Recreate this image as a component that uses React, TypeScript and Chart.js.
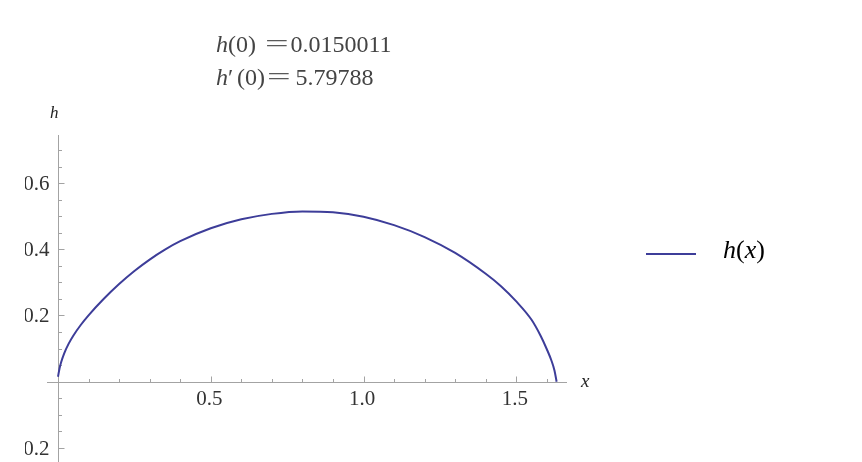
import React, { useEffect, useRef } from "react";
import { Chart, registerables } from "chart.js";

Chart.register(...registerables);

// Curve h(x)
const xValues = [0, 0.005, 0.01, 0.02, 0.035, 0.05, 0.075, 0.1, 0.15, 0.2, 0.25, 0.3, 0.35, 0.4, 0.5, 0.6, 0.7, 0.8, 0.9, 1.0, 1.1, 1.2, 1.3, 1.4, 1.45, 1.5, 1.55, 1.58, 1.6, 1.615, 1.625, 1.632];
const hValues = [0.015, 0.04, 0.058, 0.085, 0.115, 0.139, 0.172, 0.2005, 0.2505, 0.295, 0.3345, 0.369, 0.399, 0.4245, 0.4635, 0.4905, 0.507, 0.5145, 0.512, 0.4985, 0.473, 0.437, 0.389, 0.326, 0.2885, 0.2425, 0.187, 0.138, 0.098, 0.064, 0.034, 0.0];

// Axis ticks
const xMajorTicks = [0.5, 1.0, 1.5];
const xTickLabels = ["0.5", "1.0", "1.5"];
const xMinorTicks = [0.1, 0.2, 0.3, 0.4, 0.6, 0.7, 0.8, 0.9, 1.1, 1.2, 1.3, 1.4, 1.6];
const yMajorTicks = [-0.2, 0.2, 0.4, 0.6];
const yTickLabels = ["\u22120.2", "0.2", "0.4", "0.6"];
const yMinorTicks = [-0.15, -0.1, -0.05, 0.05, 0.1, 0.15, 0.25, 0.3, 0.35, 0.45, 0.5, 0.55, 0.65, 0.7];

const titleLine1Value = "0.0150011";
const titleLine2Value = "5.79788";
const seriesName = "h(x)";

const CURVE = "#3d3d99";
const AXIS = "#a3a3a3";
const SERIF = '"Liberation Serif", "Times New Roman", serif';

const axesPlugin = {
  id: "mmaAxes",
  beforeDatasetsDraw(chart: any) {
    const { ctx } = chart;
    const xs = chart.scales.x;
    const ys = chart.scales.y;
    const x0 = Math.round(xs.getPixelForValue(0)) + 0.5;
    const y0 = Math.round(ys.getPixelForValue(0)) + 0.5;
    ctx.save();
    ctx.strokeStyle = AXIS;
    ctx.lineWidth = 1;
    ctx.beginPath();
    ctx.moveTo(xs.left, y0);
    ctx.lineTo(xs.right, y0);
    ctx.moveTo(x0, ys.top);
    ctx.lineTo(x0, ys.bottom + 5);
    xMajorTicks.forEach((v) => {
      const p = Math.round(xs.getPixelForValue(v)) + 0.5;
      ctx.moveTo(p, y0);
      ctx.lineTo(p, y0 - 6);
    });
    xMinorTicks.forEach((v) => {
      const p = Math.round(xs.getPixelForValue(v)) + 0.5;
      ctx.moveTo(p, y0);
      ctx.lineTo(p, y0 - 3.5);
    });
    yMajorTicks.forEach((v) => {
      const p = Math.round(ys.getPixelForValue(v)) + 0.5;
      ctx.moveTo(x0, p);
      ctx.lineTo(x0 + 6, p);
    });
    yMinorTicks.forEach((v) => {
      const p = Math.round(ys.getPixelForValue(v)) + 0.5;
      ctx.moveTo(x0, p);
      ctx.lineTo(x0 + 3.5, p);
    });
    ctx.stroke();

    ctx.fillStyle = "#333";
    ctx.font = `21px ${SERIF}`;
    ctx.textAlign = "center";
    ctx.textBaseline = "alphabetic";
    xMajorTicks.forEach((v, i) => {
      ctx.fillText(xTickLabels[i], xs.getPixelForValue(v) - 1.5, y0 + 22);
    });
    ctx.beginPath();
    ctx.rect(25, 0, chart.width, chart.height);
    ctx.clip();
    ctx.textAlign = "right";
    yMajorTicks.forEach((v, i) => {
      ctx.fillText(yTickLabels[i], x0 - 9, ys.getPixelForValue(v) + 7);
    });
    ctx.restore();
  },
};

export default function App() {
  const canvasRef = useRef<HTMLCanvasElement | null>(null);

  useEffect(() => {
    if (!canvasRef.current) return;
    const points = xValues.map((x, i) => ({ x, y: hValues[i] }));
    const chart = new Chart(canvasRef.current, {
      type: "line",
      data: {
        datasets: [
          {
            label: seriesName,
            data: points,
            borderColor: CURVE,
            borderWidth: 2,
            pointRadius: 0,
            fill: false,
            cubicInterpolationMode: "monotone",
          },
        ],
      },
      options: {
        animation: false,
        responsive: false,
        devicePixelRatio: 1,
        layout: { padding: { left: 47, right: 295, top: 135, bottom: 0 } },
        plugins: { legend: { display: false }, tooltip: { enabled: false }, title: { display: false } },
        scales: {
          x: { type: "linear", min: -0.036, max: 1.666, display: false },
          y: { type: "linear", min: -0.2426, max: 0.7453, display: false },
        },
      },
      plugins: [axesPlugin],
    });
    return () => chart.destroy();
  }, []);

  const abs = (o: React.CSSProperties): React.CSSProperties => ({
    position: "absolute",
    whiteSpace: "nowrap",
    fontFamily: SERIF,
    margin: 0,
    ...o,
  });
  const title = (o: React.CSSProperties) => abs({ fontSize: 24, lineHeight: "24px", color: "#444", ...o });
  const eq: React.CSSProperties = {
    display: "inline-block",
    transform: "scale(1.75, 0.92)",
    transformOrigin: "left center",
    color: "#5a5a5a",
  };

  return (
    <div style={{ position: "fixed", left: 0, top: 0, width: 862, height: 462, background: "#fff", overflow: "hidden" }}>
      <canvas ref={canvasRef} width={862} height={462} style={{ position: "absolute", left: 0, top: 0 }} />
      {/* title line 1 */}
      <span style={title({ left: 216, top: 32 })}>
        <i>h</i>(0)
      </span>
      <span style={title({ left: 264.5, top: 32 })}>
        <span style={eq}>=</span>
      </span>
      <span style={title({ left: 290.5, top: 32 })}>{titleLine1Value}</span>
      {/* title line 2 */}
      <span style={title({ left: 216, top: 65 })}>
        <i>h</i>′
      </span>
      <span style={title({ left: 237, top: 65 })}>(0)</span>
      <span style={title({ left: 266.5, top: 65 })}>
        <span style={eq}>=</span>
      </span>
      <span style={title({ left: 295.5, top: 65 })}>{titleLine2Value}</span>

      <div style={abs({ left: 50, top: 104, fontSize: 17, lineHeight: "17px", color: "#222" })}>
        <i>h</i>
      </div>
      <div style={abs({ left: 581, top: 371, fontSize: 19, lineHeight: "19px", color: "#222" })}>
        <i>x</i>
      </div>
      <div style={abs({ left: 646, top: 253, width: 50, height: 2, background: CURVE })} />
      <div style={abs({ left: 723, top: 236.5, fontSize: 26, lineHeight: "26px", color: "#000" })}>
        <i>h</i>(<i>x</i>)
      </div>
    </div>
  );
}
